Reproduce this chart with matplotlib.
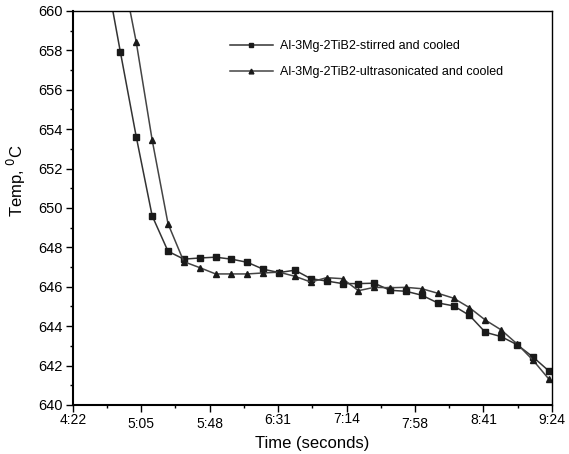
import numpy as np
import matplotlib
matplotlib.use("Agg")
import matplotlib.pyplot as plt
from matplotlib.ticker import FixedLocator

plt.rcParams["font.family"] = ["Liberation Sans", "DejaVu Sans"]

# -------------------------
# DATA (time in seconds, temperature in deg C)
# -------------------------
t_stirred = [282, 292, 302, 312, 322, 332, 342, 352, 362, 372, 382, 392, 402, 412,
             422, 432, 442, 452, 462, 472, 482, 492, 502, 512, 522, 532, 542, 552, 562]
temp_stirred = [662.3, 657.9, 653.6, 649.6, 647.8, 647.4, 647.46, 647.5, 647.4, 647.24,
                646.89, 646.72, 646.84, 646.41, 646.29, 646.16, 646.16, 646.18, 645.82,
                645.77, 645.57, 645.18, 645.03, 644.55, 643.69, 643.47, 643.06, 642.44, 641.73]

t_ultra = [292, 302, 312, 322, 332, 342, 352, 362, 372, 382, 392, 402, 412,
           422, 432, 442, 452, 462, 472, 482, 492, 502, 512, 522, 532, 542, 552, 562]
temp_ultra = [662.5, 658.4, 653.45, 649.2, 647.27, 646.97, 646.65, 646.65, 646.65, 646.70,
              646.74, 646.53, 646.24, 646.46, 646.41, 645.80, 645.97, 645.95, 645.97, 645.90,
              645.67, 645.42, 644.94, 644.31, 643.81, 643.10, 642.28, 641.32]

tick_labels = ["4:22", "5:05", "5:48", "6:31", "7:14", "7:58", "8:41", "9:24"]
t_start, t_end = 262, 564

# -------------------------
# PLOT
# -------------------------
fig = plt.figure(figsize=(5.69, 4.54), dpi=100)
ax = fig.add_axes([0.128, 0.108, 0.842, 0.868])

ax.plot(t_stirred, temp_stirred, color="#333333", lw=1.1, marker="s", ms=4.2,
        mfc="#1a1a1a", mec="#1a1a1a", label="Al-3Mg-2TiB2-stirred and cooled")
ax.plot(t_ultra, temp_ultra, color="#444444", lw=1.1, marker="^", ms=4.6,
        mfc="#1a1a1a", mec="#1a1a1a", label="Al-3Mg-2TiB2-ultrasonicated and cooled")

ax.set_xlim(t_start, t_end)
ax.set_ylim(640, 660)

major_x = np.linspace(t_start, t_end, len(tick_labels))
ax.set_xticks(major_x)
ax.set_xticklabels(tick_labels)
ax.xaxis.set_minor_locator(FixedLocator((major_x[:-1] + major_x[1:]) / 2))
ax.set_yticks(np.arange(640, 661, 2))
ax.yaxis.set_minor_locator(FixedLocator(np.arange(641, 660, 2)))

ax.tick_params(which="major", direction="out", length=5, width=1)
ax.tick_params(which="minor", direction="out", length=2.5, width=1)
ax.tick_params(axis="x", labelsize=10, pad=1)
ax.tick_params(axis="y", labelsize=10.5, pad=2)

# the original axis labels sit at slightly different heights
x_pads = [1, 4, 4, 1, 0, 4, 1, 1]
for tick, p in zip(ax.xaxis.get_major_ticks(), x_pads):
    tick.set_pad(p)

for s in ax.spines.values():
    s.set_linewidth(1.0)
ax.spines["left"].set_linewidth(1.5)
ax.spines["bottom"].set_linewidth(1.5)

ax.set_xlabel("Time (seconds)", fontsize=12, labelpad=3)
ax.set_ylabel("Temp, $^{0}$C", fontsize=12, labelpad=4)
ax.yaxis.set_label_coords(-0.094, 0.57)

ax.legend(loc="upper left", bbox_to_anchor=(0.305, 0.955), frameon=False,
          fontsize=9, handlelength=3.4, handletextpad=0.6, labelspacing=1.15,
          markerscale=0.75)

fig.savefig("out.png", dpi=100)
